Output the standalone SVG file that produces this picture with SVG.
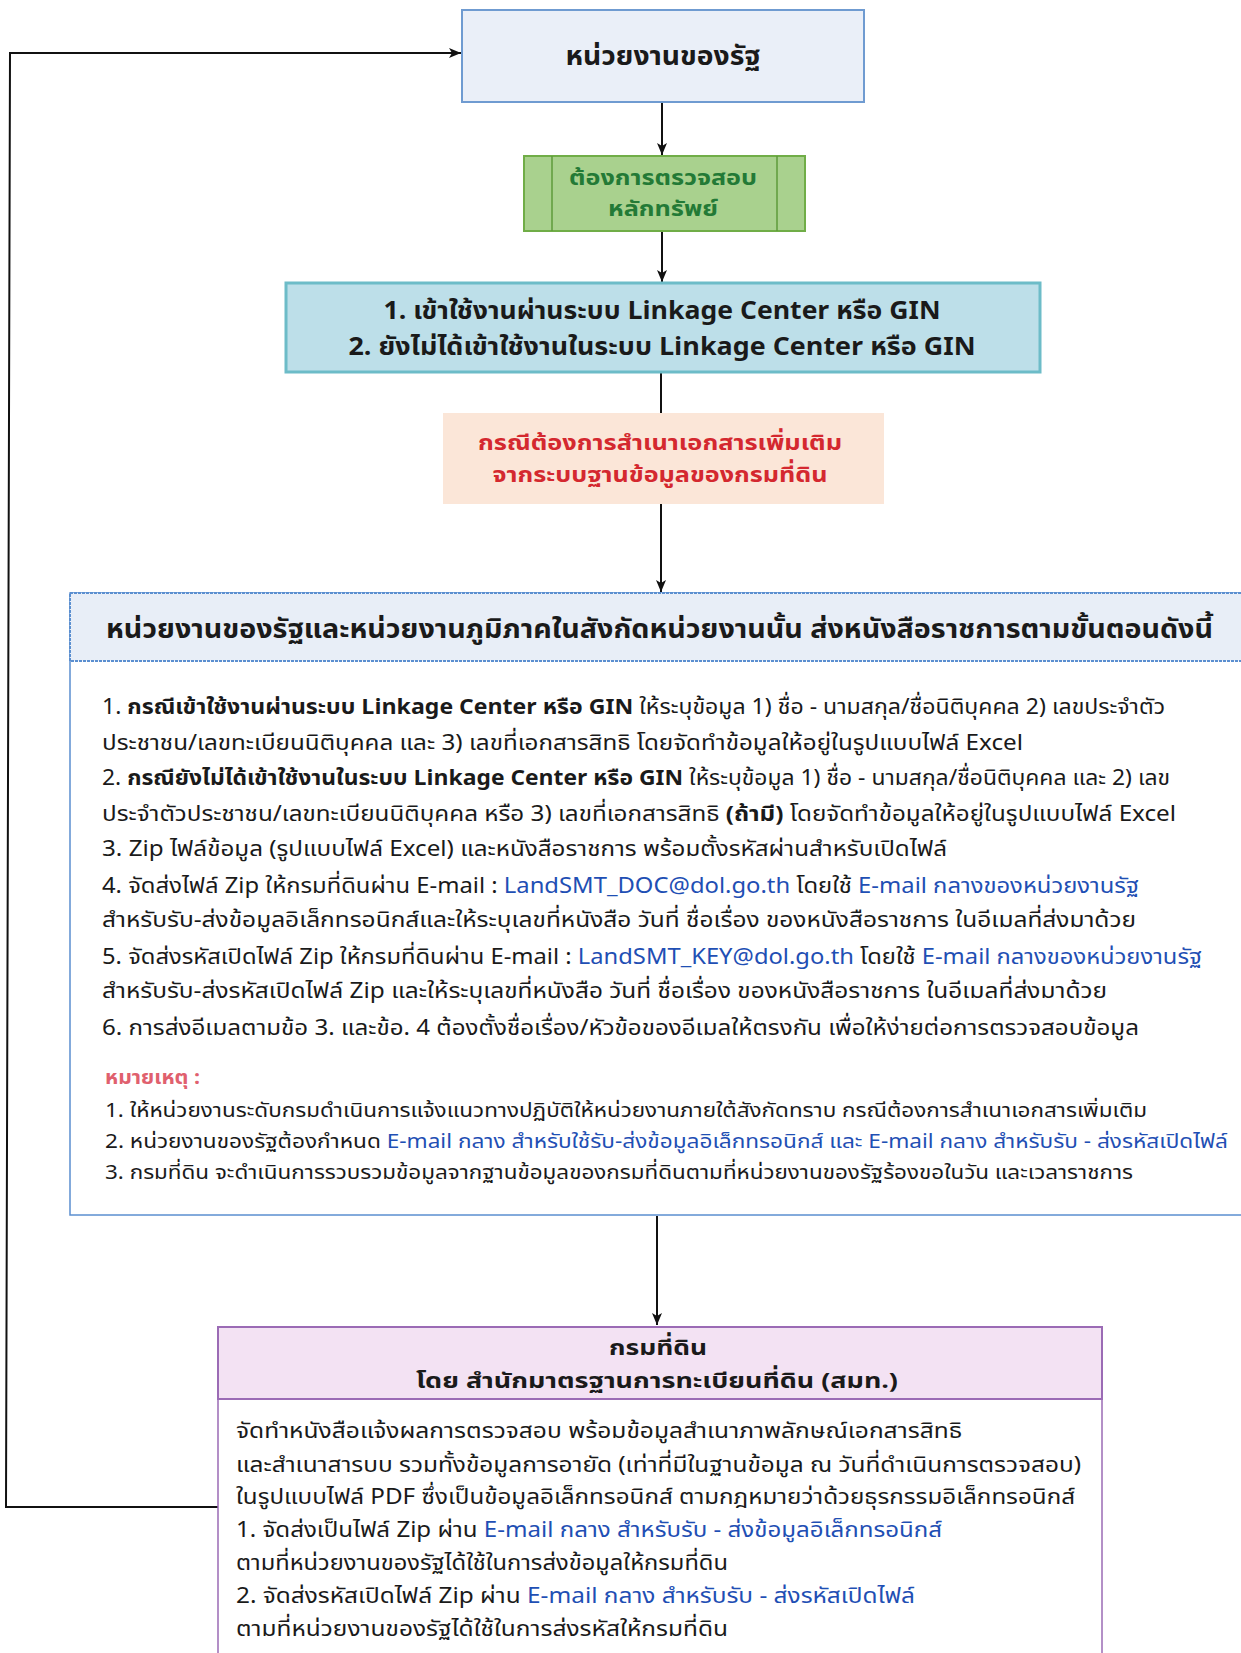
<svg xmlns="http://www.w3.org/2000/svg" width="1241" height="1653" viewBox="0 0 1241 1653">
<defs>
<marker id="arr" viewBox="0 0 12 10" refX="12" refY="5" markerWidth="12" markerHeight="10" markerUnits="userSpaceOnUse" orient="auto">
<path d="M0,0 L12,5 L0,10 L3,5 Z" fill="#111"/>
</marker>
<style>
text{font-family:"Noto Sans Thai","Noto Sans","DejaVu Sans",sans-serif;fill:#1a1a1a}
.b{font-weight:bold}
.t{font-size:22px}
.n{font-size:20px}
.lk{fill:#1f4fb4}
.c{text-anchor:middle}
.conn{stroke:#111;stroke-width:2;fill:none}
</style>
</defs>
<rect width="1241" height="1653" fill="#fff"/>

<g id="connectors">
<line class="conn" x1="662" y1="102" x2="662" y2="155" marker-end="url(#arr)"/>
<line class="conn" x1="662" y1="231" x2="662" y2="282" marker-end="url(#arr)"/>
<line class="conn" x1="661" y1="373" x2="661" y2="413"/>
<line class="conn" x1="661" y1="504" x2="661" y2="592" marker-end="url(#arr)"/>
<line class="conn" x1="657" y1="1216" x2="657" y2="1325" marker-end="url(#arr)"/>
<polyline class="conn" points="218,1507 6,1507 10,53 461,53" marker-end="url(#arr)"/>
</g>

<g id="node-state">
<rect x="462" y="10" width="402" height="92" fill="#eaeff8" stroke="#6f9bd1" stroke-width="2"/>
<text class="b c" x="663" y="65" font-size="26" textLength="195" lengthAdjust="spacingAndGlyphs">หน่วยงานของรัฐ</text>
</g>

<g id="node-check">
<rect x="524" y="156" width="281" height="75" fill="#a9d18e" stroke="#70ad47" stroke-width="2"/>
<line x1="552" y1="156" x2="552" y2="231" stroke="#5e9a3a" stroke-width="1.5"/>
<line x1="777" y1="156" x2="777" y2="231" stroke="#5e9a3a" stroke-width="1.5"/>
<text class="b c" x="663" y="185" font-size="22" style="fill:#237a36" textLength="188" lengthAdjust="spacingAndGlyphs">ต้องการตรวจสอบ</text>
<text class="b c" x="663" y="216" font-size="22" style="fill:#237a36" textLength="110" lengthAdjust="spacingAndGlyphs">หลักทรัพย์</text>
</g>

<g id="node-system">
<rect x="286" y="283" width="754" height="89" fill="#bddfe9" stroke="#6dbcc8" stroke-width="3"/>
<text class="b c" x="662" y="319" font-size="25" textLength="557" lengthAdjust="spacingAndGlyphs">1. เข้าใช้งานผ่านระบบ Linkage Center หรือ GIN</text>
<text class="b c" x="662" y="355" font-size="25" textLength="627" lengthAdjust="spacingAndGlyphs">2. ยังไม่ได้เข้าใช้งานในระบบ Linkage Center หรือ GIN</text>
</g>

<g id="node-copy">
<rect x="443" y="413" width="441" height="91" fill="#fbe6d8"/>
<text class="b c" x="660" y="450" font-size="22" style="fill:#d4282f" textLength="364" lengthAdjust="spacingAndGlyphs">กรณีต้องการสำเนาเอกสารเพิ่มเติม</text>
<text class="b c" x="660" y="482" font-size="22" style="fill:#d4282f" textLength="335" lengthAdjust="spacingAndGlyphs">จากระบบฐานข้อมูลของกรมที่ดิน</text>
</g>

<g id="node-steps">
<rect x="70" y="593" width="1180" height="622" fill="#fff" stroke="#5b8fd0" stroke-width="1.5"/>
<rect x="70" y="593" width="1180" height="68" fill="#e8eef7" stroke="#5b8fd0" stroke-width="2" stroke-dasharray="3 1"/>
<text class="b" x="106" y="638" font-size="26" textLength="1107" lengthAdjust="spacingAndGlyphs">หน่วยงานของรัฐและหน่วยงานภูมิภาคในสังกัดหน่วยงานนั้น ส่งหนังสือราชการตามขั้นตอนดังนี้</text>

<text class="t" x="102" y="714" textLength="1063" lengthAdjust="spacingAndGlyphs">1. <tspan class="b">กรณีเข้าใช้งานผ่านระบบ Linkage Center หรือ GIN</tspan>  ให้ระบุข้อมูล 1) ชื่อ - นามสกุล/ชื่อนิติบุคคล 2) เลขประจำตัว</text>
<text class="t" x="102" y="750" textLength="921" lengthAdjust="spacingAndGlyphs">ประชาชน/เลขทะเบียนนิติบุคคล และ 3) เลขที่เอกสารสิทธิ โดยจัดทำข้อมูลให้อยู่ในรูปแบบไฟล์ Excel</text>
<text class="t" x="102" y="785" textLength="1068" lengthAdjust="spacingAndGlyphs">2. <tspan class="b">กรณียังไม่ได้เข้าใช้งานในระบบ Linkage Center หรือ GIN</tspan> ให้ระบุข้อมูล 1) ชื่อ - นามสกุล/ชื่อนิติบุคคล และ 2) เลข</text>
<text class="t" x="102" y="821" textLength="1074" lengthAdjust="spacingAndGlyphs">ประจำตัวประชาชน/เลขทะเบียนนิติบุคคล หรือ 3) เลขที่เอกสารสิทธิ <tspan class="b">(ถ้ามี)</tspan> โดยจัดทำข้อมูลให้อยู่ในรูปแบบไฟล์ Excel</text>
<text class="t" x="102" y="856" textLength="845" lengthAdjust="spacingAndGlyphs">3. Zip ไฟล์ข้อมูล (รูปแบบไฟล์ Excel) และหนังสือราชการ พร้อมตั้งรหัสผ่านสำหรับเปิดไฟล์</text>
<text class="t" x="102" y="893" textLength="1037" lengthAdjust="spacingAndGlyphs">4. จัดส่งไฟล์ Zip ให้กรมที่ดินผ่าน  E-mail :  <tspan class="lk">LandSMT_DOC@dol.go.th</tspan> โดยใช้ <tspan class="lk">E-mail กลางของหน่วยงานรัฐ</tspan></text>
<text class="t" x="102" y="927" textLength="1034" lengthAdjust="spacingAndGlyphs">สำหรับรับ-ส่งข้อมูลอิเล็กทรอนิกส์และให้ระบุเลขที่หนังสือ วันที่ ชื่อเรื่อง ของหนังสือราชการ ในอีเมลที่ส่งมาด้วย</text>
<text class="t" x="102" y="964" textLength="1100" lengthAdjust="spacingAndGlyphs">5. จัดส่งรหัสเปิดไฟล์ Zip ให้กรมที่ดินผ่าน E-mail : <tspan class="lk">LandSMT_KEY@dol.go.th</tspan> โดยใช้ <tspan class="lk">E-mail กลางของหน่วยงานรัฐ</tspan></text>
<text class="t" x="102" y="998" textLength="1005" lengthAdjust="spacingAndGlyphs">สำหรับรับ-ส่งรหัสเปิดไฟล์ Zip และให้ระบุเลขที่หนังสือ วันที่ ชื่อเรื่อง ของหนังสือราชการ ในอีเมลที่ส่งมาด้วย</text>
<text class="t" x="102" y="1035" textLength="1037" lengthAdjust="spacingAndGlyphs">6. การส่งอีเมลตามข้อ 3. และข้อ. 4 ต้องตั้งชื่อเรื่อง/หัวข้อของอีเมลให้ตรงกัน เพื่อให้ง่ายต่อการตรวจสอบข้อมูล</text>

<text class="n b" x="105" y="1084" style="fill:#e0606e" textLength="95" lengthAdjust="spacingAndGlyphs">หมายเหตุ :</text>
<text class="n" x="105" y="1117" textLength="1042" lengthAdjust="spacingAndGlyphs">1. ให้หน่วยงานระดับกรมดำเนินการแจ้งแนวทางปฏิบัติให้หน่วยงานภายใต้สังกัดทราบ กรณีต้องการสำเนาเอกสารเพิ่มเติม</text>
<text class="n" x="105" y="1148" textLength="1123" lengthAdjust="spacingAndGlyphs">2. หน่วยงานของรัฐต้องกำหนด <tspan class="lk">E-mail กลาง สำหรับใช้รับ-ส่งข้อมูลอิเล็กทรอนิกส์ และ E-mail กลาง สำหรับรับ - ส่งรหัสเปิดไฟล์</tspan></text>
<text class="n" x="105" y="1179" textLength="1028" lengthAdjust="spacingAndGlyphs">3. กรมที่ดิน จะดำเนินการรวบรวมข้อมูลจากฐานข้อมูลของกรมที่ดินตามที่หน่วยงานของรัฐร้องขอในวัน และเวลาราชการ</text>
</g>

<g id="node-dol">
<rect x="218" y="1327" width="884" height="340" fill="#fff" stroke="#9b6bb5" stroke-width="1.5"/>
<rect x="218" y="1327" width="884" height="72" fill="#f3e2f3" stroke="#9b6bb5" stroke-width="2"/>
<text class="b c" x="658" y="1355" font-size="22" textLength="98" lengthAdjust="spacingAndGlyphs">กรมที่ดิน</text>
<text class="b c" x="657" y="1388" font-size="22" textLength="482" lengthAdjust="spacingAndGlyphs">โดย สำนักมาตรฐานการทะเบียนที่ดิน (สมท.)</text>

<text class="t" x="236" y="1438" textLength="726" lengthAdjust="spacingAndGlyphs">จัดทำหนังสือแจ้งผลการตรวจสอบ พร้อมข้อมูลสำเนาภาพลักษณ์เอกสารสิทธิ</text>
<text class="t" x="236" y="1472" textLength="845" lengthAdjust="spacingAndGlyphs">และสำเนาสารบบ รวมทั้งข้อมูลการอายัด (เท่าที่มีในฐานข้อมูล ณ วันที่ดำเนินการตรวจสอบ)</text>
<text class="t" x="236" y="1504" textLength="839" lengthAdjust="spacingAndGlyphs">ในรูปแบบไฟล์ PDF ซึ่งเป็นข้อมูลอิเล็กทรอนิกส์ ตามกฎหมายว่าด้วยธุรกรรมอิเล็กทรอนิกส์</text>
<text class="t" x="236" y="1537" textLength="706" lengthAdjust="spacingAndGlyphs">1. จัดส่งเป็นไฟล์ Zip ผ่าน <tspan class="lk">E-mail กลาง สำหรับรับ - ส่งข้อมูลอิเล็กทรอนิกส์</tspan></text>
<text class="t" x="236" y="1570" textLength="492" lengthAdjust="spacingAndGlyphs">ตามที่หน่วยงานของรัฐได้ใช้ในการส่งข้อมูลให้กรมที่ดิน</text>
<text class="t" x="236" y="1603" textLength="679" lengthAdjust="spacingAndGlyphs">2. จัดส่งรหัสเปิดไฟล์ Zip ผ่าน <tspan class="lk">E-mail กลาง สำหรับรับ - ส่งรหัสเปิดไฟล์</tspan></text>
<text class="t" x="236" y="1636" textLength="492" lengthAdjust="spacingAndGlyphs">ตามที่หน่วยงานของรัฐได้ใช้ในการส่งรหัสให้กรมที่ดิน</text>
</g>
</svg>
